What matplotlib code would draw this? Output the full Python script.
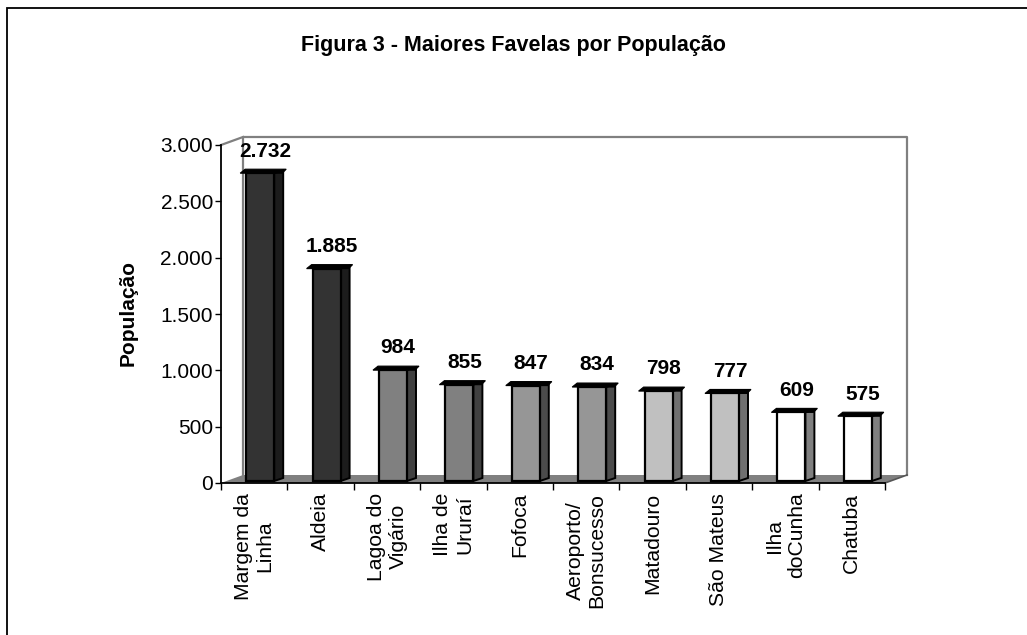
import numpy as np
import matplotlib
matplotlib.use("Agg")
from matplotlib import pyplot as plt
from matplotlib.patches import Polygon, Rectangle

plt.rcParams["font.family"] = ["Liberation Sans", "DejaVu Sans"]

favelas = [
    "Margem da\nLinha",
    "Aldeia",
    "Lagoa do\nVigário",
    "Ilha de\nUruraí",
    "Fofoca",
    "Aeroporto/\nBonsucesso",
    "Matadouro",
    "São Mateus",
    "Ilha\ndoCunha",
    "Chatuba",
]
populacao = [2732, 1885, 984, 855, 847, 834, 798, 777, 609, 575]
face_colors = ["#333333", "#333333", "#808080", "#808080", "#969696",
               "#969696", "#c0c0c0", "#c0c0c0", "#ffffff", "#ffffff"]
side_colors = ["#1c1c1c", "#1c1c1c", "#404040", "#404040", "#4b4b4b",
               "#4b4b4b", "#707070", "#707070", "#808080", "#808080"]
yticks = [0, 500, 1000, 1500, 2000, 2500, 3000]

W, H = 1027, 635
fig = plt.figure(figsize=(W / 100, H / 100), dpi=100)
ax = fig.add_axes([221 / W, 1 - 483 / H, 664 / W, 338 / H])
n = len(favelas)
ax.set_xlim(-0.5, n - 0.5)
ax.set_ylim(0, 3000)
for s in ax.spines.values():
    s.set_visible(False)

# pixel -> data units
px = (n) / 664.0
py = 3000 / 338.0
dx, dy = 22 * px, 8 * py  # depth of the 3d box
gray = "#808080"

# floor
ax.add_patch(Polygon([(-0.5, 0), (n - 0.5, 0), (n - 0.5 + dx, dy), (-0.5 + dx, dy)],
                     closed=True, facecolor=gray, edgecolor="none", clip_on=False, zorder=1))
# back walls
ax.plot([-0.5 + dx, -0.5 + dx, n - 0.5 + dx, n - 0.5 + dx], [dy, 3000 + dy, 3000 + dy, dy],
        color=gray, lw=1.6, clip_on=False, zorder=1)
ax.plot([-0.5, -0.5 + dx], [3000, 3000 + dy], color=gray, lw=1.6, clip_on=False, zorder=1)
# front axes
ax.plot([-0.5, -0.5], [0, 3000], color="black", lw=1.3, clip_on=False, zorder=5)
ax.plot([-0.5, n - 0.5], [0, 0], color="black", lw=1.3, clip_on=False, zorder=5)
ax.plot([n - 0.5, n - 0.5 + dx], [0, dy], color="#555555", lw=1.2, clip_on=False, zorder=1)

# bars
for i, v in enumerate(populacao):
    x0 = i - 14 * px + 6 * px
    x1 = i + 14 * px + 6 * px
    y0 = 2 * py
    yt = v + 2 * py
    sw, sh = 9 * px, 3 * py
    ax.add_patch(Polygon([(x1, y0), (x1 + sw, y0 + sh), (x1 + sw, yt + sh), (x1, yt)],
                         closed=True, facecolor=side_colors[i], edgecolor="black",
                         lw=1.4, clip_on=False, zorder=3, joinstyle="miter"))
    ax.add_patch(Rectangle((x0, y0), x1 - x0, yt - y0, facecolor=face_colors[i],
                           edgecolor="black", lw=1.6, clip_on=False, zorder=4))
    ax.add_patch(Polygon([(x0 - 6 * px, yt), (x1 + 8 * px, yt), (x1 + 12 * px, yt + 4 * py),
                          (x0 - 1 * px, yt + 4 * py)],
                         closed=True, facecolor="black", edgecolor="black", lw=0.8,
                         clip_on=False, zorder=5))
    ax.annotate(f"{v:,}".replace(",", "."), (i + 11 * px, yt), xytext=(0, 12),
                textcoords="offset points", ha="center", va="baseline",
                fontsize=15, fontweight="bold", zorder=6, annotation_clip=False)

ax.set_yticks(yticks)
ax.set_yticklabels([f"{t:,}".replace(",", ".") for t in yticks], fontsize=15)
ax.tick_params(axis="y", length=4.3, width=1, pad=1.5, direction="out")
ax.set_xticks(np.arange(n))
ax.set_xticklabels(favelas, rotation=90, ha="center", va="top", multialignment="center",
                   fontsize=15.2, linespacing=1.2)
ax.tick_params(axis="x", which="major", length=0, pad=7)
ax.set_xticks(np.arange(n + 1) - 0.5, minor=True)
ax.tick_params(axis="x", which="minor", length=5, width=1, direction="out")

fig.text(128 / W, 1 - 313 / H, "População", rotation=90, ha="center", va="center",
         fontsize=15, fontweight="bold")
fig.text(513 / W, 1 - 46 / H, "Figura 3 - Maiores Favelas por População", ha="center",
         va="center", fontsize=15.5, fontweight="bold")

# outer frame (right and bottom fall outside the image)
fig.patches.append(Rectangle((7 / W, -0.1), 1.2, 1.1 - 8 / H, transform=fig.transFigure,
                             fill=False, edgecolor="black", lw=1.3))

fig.savefig("out.png", dpi=100)
